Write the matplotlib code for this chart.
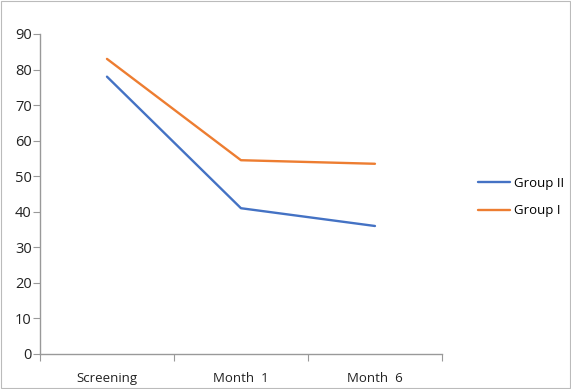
import matplotlib.pyplot as plt
from matplotlib.patches import Rectangle

# Данные по визитам
visits = ['Screening', 'Month  1', 'Month  6']
group_2 = [78, 41, 36]
group_1 = [83, 54.5, 53.5]

plt.rcParams['font.family'] = ['Open Sans', 'DejaVu Sans']

fig = plt.figure(figsize=(5.71, 3.89), dpi=100)
ax = fig.add_axes([0.070, 0.090, 0.704, 0.8226])

x = [i + 0.5 for i in range(len(visits))]
ax.plot(x, group_2, color='#4472C4', lw=1.7, label='Group II', solid_capstyle='round')
ax.plot(x, group_1, color='#ED7D31', lw=1.7, label='Group I', solid_capstyle='round')

ax.set_xlim(0, 3)
ax.set_ylim(0, 90)
ax.set_yticks(range(0, 91, 10))
ax.set_xticks(range(0, 4))
ax.set_xticklabels([])
ax.set_xticks(x, minor=True)
ax.set_xticklabels(visits, minor=True)
ax.tick_params(axis='x', which='minor', length=0, pad=13, labelsize=9.5, colors='#222222')
ax.tick_params(axis='x', which='major', length=5, color='#999999')
ax.tick_params(axis='y', length=5, color='#999999', labelsize=10.5, labelcolor='#222222', pad=1)

for s in ['top', 'right']:
    ax.spines[s].set_visible(False)
for s in ['left', 'bottom']:
    ax.spines[s].set_color('#999999')
    ax.spines[s].set_linewidth(1.0)

ax.legend(loc='center left', bbox_to_anchor=(1.06, 0.49), frameon=False,
          fontsize=9.5, handlelength=2.4, handletextpad=0.3, labelspacing=1.1)

# рамка вокруг рисунка
fig.patches.append(Rectangle((0.002, 0.003), 0.996, 0.994, transform=fig.transFigure,
                             fill=False, edgecolor='#bbbbbb', lw=0.8))

fig.savefig('out.png', dpi=100)
